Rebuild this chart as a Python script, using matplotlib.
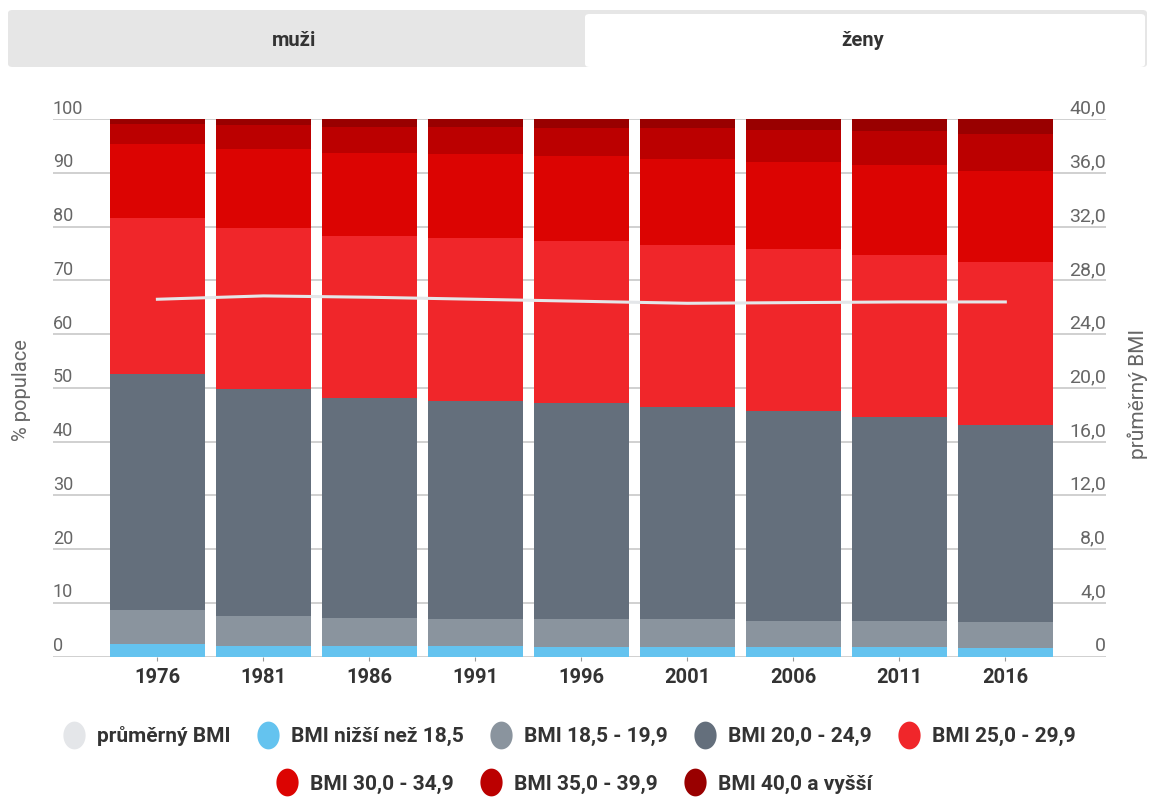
import matplotlib.pyplot as plt
import numpy as np
from matplotlib.patches import FancyBboxPatch
from matplotlib.path import Path
from matplotlib.lines import Line2D
import matplotlib.transforms as mtransforms

plt.rcParams['font.family'] = ['Roboto', 'DejaVu Sans']

years = ['1976', '1981', '1986', '1991', '1996', '2001', '2006', '2011', '2016']

# cumulative tops of each BMI band (% of population)
top_under185 = [2.3, 2.0, 2.0, 2.0, 1.7, 1.7, 1.7, 1.7, 1.5]
top_185_199 = [8.6, 7.5, 7.2, 6.9, 6.9, 6.9, 6.7, 6.7, 6.4]
top_200_249 = [52.6, 49.8, 48.1, 47.6, 47.2, 46.5, 45.7, 44.6, 43.1]
top_250_299 = [81.6, 79.7, 78.3, 77.9, 77.3, 76.6, 75.8, 74.7, 73.4]
top_300_349 = [95.4, 94.4, 93.7, 93.5, 93.1, 92.6, 92.0, 91.4, 90.3]
top_350_399 = [99.1, 98.9, 98.5, 98.6, 98.3, 98.3, 98.0, 97.8, 97.2]
top_400 = [100] * 9

mean_bmi = [26.6, 26.85, 26.75, 26.6, 26.45, 26.3, 26.35, 26.4, 26.4]

band_labels = ['BMI nižší než 18,5', 'BMI 18,5 - 19,9', 'BMI 20,0 - 24,9', 'BMI 25,0 - 29,9',
               'BMI 30,0 - 34,9', 'BMI 35,0 - 39,9', 'BMI 40,0 a vyšší']
band_colors = ['#64c3ef', '#8a949e', '#646f7c', '#f0262a', '#dc0402', '#bb0000', '#990000']
line_label = 'průměrný BMI'
line_color = '#e4e6e9'

left_ticks = [0, 10, 20, 30, 40, 50, 60, 70, 80, 90, 100]
right_ticks = [0, 4, 8, 12, 16, 20, 24, 28, 32, 36, 40]

W, H = 1149, 810
fig = plt.figure(figsize=(W / 100, H / 100), dpi=100)

# tabs on top
fig.patches.append(FancyBboxPatch((8 / W, 1 - 67 / H), (1139) / W, 57 / H,
                                  boxstyle='round,pad=0,rounding_size=0.004',
                                  transform=fig.transFigure, fc='#e6e6e6', ec='none'))
fig.patches.append(FancyBboxPatch((585 / W, 1 - 67 / H), 560 / W, 53 / H,
                                  boxstyle='round,pad=0,rounding_size=0.004',
                                  transform=fig.transFigure, fc='white', ec='none'))
fig.text(294 / W, 1 - 40 / H, 'muži', ha='center', va='center', fontsize=14.5,
         fontweight='bold', color='#333333')
fig.text(863 / W, 1 - 40 / H, 'ženy', ha='center', va='center', fontsize=14.5,
         fontweight='bold', color='#333333')

ax_l, ax_r, ax_t, ax_b = 53, 1106, 119.3, 656.5
ax = fig.add_axes([ax_l / W, 1 - ax_b / H, (ax_r - ax_l) / W, (ax_b - ax_t) / H])

x = np.arange(len(years))
tops = [top_under185, top_185_199, top_200_249, top_250_299, top_300_349, top_350_399, top_400]
bottom = np.zeros(len(years))
for t, c, lab in zip(tops, band_colors, band_labels):
    t = np.array(t, dtype=float)
    ax.bar(x, t - bottom, 0.895, bottom=bottom, color=c, label=lab, zorder=2, linewidth=0)
    bottom = t

ax.set_xlim(-0.985, 8.95)
ax.set_ylim(0, 100)
for s in ax.spines.values():
    s.set_visible(False)
ax.set_yticks(left_ticks)
ax.yaxis.grid(True, color='#c4c4c4', linewidth=1.1, zorder=0)
ax.set_axisbelow(True)
ax.tick_params(axis='y', length=0, labelleft=False)
ax.set_xticks(x)
ax.set_xticklabels(years, fontsize=14.5, color='#333333', fontweight='bold')
ax.tick_params(axis='x', length=3, color='#999999', pad=5)

off = mtransforms.offset_copy(ax.get_yaxis_transform(), fig=fig, x=0, y=4, units='points')
for v in left_ticks:
    ax.text(0, v, str(v), transform=off, ha='left', va='baseline', fontsize=13,
            color='#666666')

ax2 = ax.twinx()
ax2.set_ylim(0, 40)
for s in ax2.spines.values():
    s.set_visible(False)
ax2.tick_params(axis='y', length=0, labelright=False)
ax2.set_yticks([])
ax2.plot(x, mean_bmi, color=line_color, linewidth=2.2, zorder=5)
off2 = mtransforms.offset_copy(ax2.get_yaxis_transform(), fig=fig, x=0, y=4, units='points')
for v in right_ticks:
    lab = '0' if v == 0 else f'{v:.1f}'.replace('.', ',')
    ax2.text(1, v, lab, transform=off2, ha='right', va='baseline', fontsize=14,
             color='#666666')

fig.text(22 / W, 1 - 390 / H, '% populace', rotation=90, ha='center', va='center',
         fontsize=14.5, color='#666666')
fig.text(1138 / W, 1 - 394 / H, 'průměrný BMI', rotation=90, ha='center', va='center',
         fontsize=15, color='#666666')

# ellipse marker for legend
theta = np.linspace(0, 2 * np.pi, 60)
ell = Path(np.column_stack([0.8 * np.cos(theta), np.sin(theta)]), closed=True)


def handle(c):
    return Line2D([], [], marker=ell, linestyle='none', markersize=20,
                  markerfacecolor=c, markeredgecolor='none')


row1_labels = [line_label] + band_labels[:4]
row1_colors = [line_color] + band_colors[:4]
row2_labels = band_labels[4:]
row2_colors = band_colors[4:]

leg_kw = dict(frameon=False, handletextpad=0.55, columnspacing=1.25, handlelength=1.1,
              prop={'size': 15, 'weight': 'bold'}, labelcolor='#333333')
leg1 = fig.legend([handle(c) for c in row1_colors], row1_labels, ncol=5,
                  loc='center', bbox_to_anchor=(569 / W, 1 - 736 / H), **leg_kw)
leg2 = fig.legend([handle(c) for c in row2_colors], row2_labels, ncol=3,
                  loc='center', bbox_to_anchor=(574 / W, 1 - 784 / H), **leg_kw)

fig.savefig('out.png', dpi=100, facecolor='white')
